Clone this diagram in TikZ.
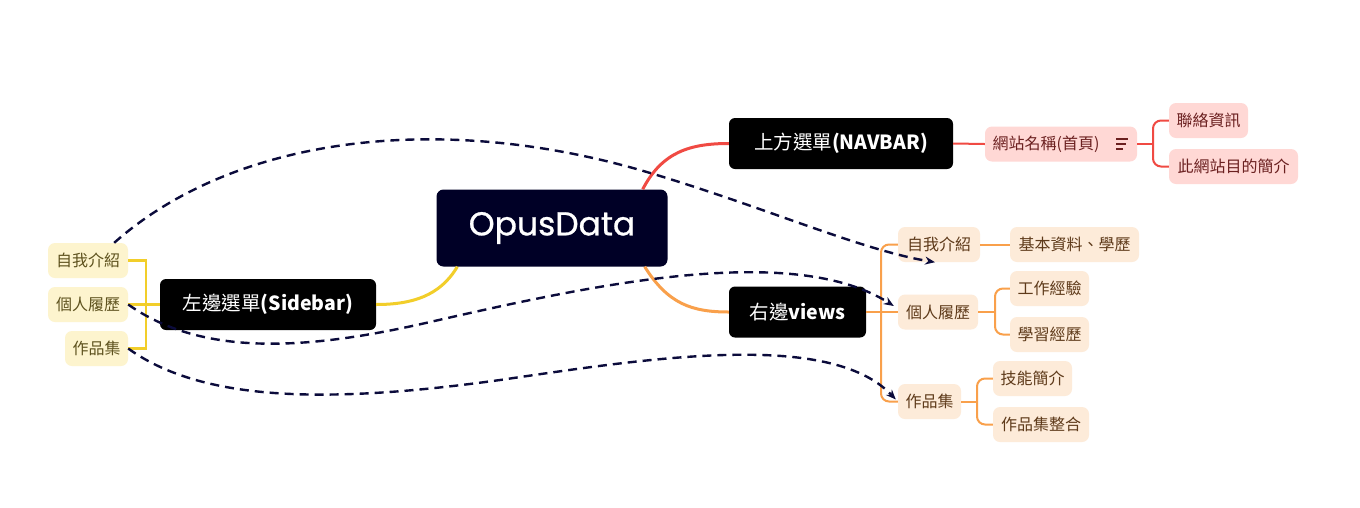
\documentclass[tikz,border=0pt]{standalone}
\usepackage{fontspec}
\usetikzlibrary{arrows.meta,calc}
\newfontfamily\cjk{Noto Sans CJK TC}
\newfontfamily\popfont{Poppins}[FakeBold=0.8]
\definecolor{rootbg}{HTML}{000026}
\definecolor{redl}{HTML}{F04A43}
\definecolor{orgl}{HTML}{F9A04B}
\definecolor{ylwl}{HTML}{F2CE2A}
\definecolor{pinkbg}{HTML}{FFD8D5}
\definecolor{peachbg}{HTML}{FDEBD9}
\definecolor{ylwbg}{HTML}{FDF4CE}
\definecolor{pinktx}{HTML}{6B2020}
\definecolor{peachtx}{HTML}{5E3A1A}
\definecolor{ylwtx}{HTML}{5E521E}
\definecolor{dashc}{HTML}{0B0B3B}
\tikzset{
  blk/.style={fill=black, text=white, rounded corners=6pt, minimum height=51pt, inner sep=0pt, font=\cjk\fontsize{19.5}{22}\selectfont},
  leaf/.style={rounded corners=7pt, minimum height=35pt, inner sep=0pt, font=\cjk\fontsize{16}{18}\selectfont},
  pleaf/.style={leaf, fill=pinkbg, text=pinktx},
  oleaf/.style={leaf, fill=peachbg, text=peachtx},
  yleaf/.style={leaf, fill=ylwbg, text=ylwtx},
  mainr/.style={draw=redl, line width=3pt},
  maino/.style={draw=orgl, line width=3pt},
  mainy/.style={draw=ylwl, line width=3pt},
  subr/.style={draw=redl, line width=2pt},
  subo/.style={draw=orgl, line width=2pt},
  suby/.style={draw=ylwl, line width=2.2pt},
  rel/.style={draw=dashc, line width=2.4pt, dash pattern=on 9pt off 6pt, -{Stealth[length=10pt,width=8pt]}},
}
\begin{document}
\begin{tikzpicture}[x=1pt,y=-1pt]
\useasboundingbox (0,0) rectangle (1360,507);
\fill[white] (0,0) rectangle (1360,507);

% main nodes
\node[fill=rootbg, text=white, rounded corners=7pt, minimum width=231pt, minimum height=77pt, inner sep=0pt, font=\popfont\fontsize{33}{36}\selectfont] (opus) at (552,228) {OpusData};
\node[blk, minimum width=224pt] (navbar) at (841,143.5) {上方選單{\bfseries(NAVBAR)}};
\node[blk, minimum width=137pt] (views) at (797.5,312) {右邊{\bfseries views}};
\node[blk, minimum width=216pt] (sidebar) at (268,304.5) {左邊選單{\bfseries(Sidebar)}};

% navbar branch
\node[pleaf, minimum width=152pt] (site) at (1061,144) {網站名稱(首頁)\kern30pt\relax};
\draw[pinktx, line width=1.2pt] ($(site.east)+(-21,-5)$) -- +(12,0)
  ($(site.east)+(-21,0)$) -- +(10,0)
  ($(site.east)+(-21,5)$) -- +(7,0);
\node[pleaf, minimum width=79pt] (contact) at (1208.5,120.5) {聯絡資訊};
\node[pleaf, minimum width=129pt] (purpose) at (1233.5,166.5) {此網站目的簡介};

% views branch
\node[oleaf, minimum width=82pt] (rself) at (939,244.5) {自我介紹};
\node[oleaf, minimum width=129pt] (basic) at (1074.5,244.5) {基本資料、學歷};
\node[oleaf, minimum width=80pt] (rcv) at (938,312) {個人履歷};
\node[oleaf, minimum width=79pt] (work) at (1049.5,288.5) {工作經驗};
\node[oleaf, minimum width=79pt] (study) at (1049.5,334.5) {學習經歷};
\node[oleaf, minimum width=63pt] (rport) at (929.5,401.5) {作品集};
\node[oleaf, minimum width=79pt] (skill) at (1032.5,378.5) {技能簡介};
\node[oleaf, minimum width=96pt] (integ) at (1041,424.5) {作品集整合};

% sidebar branch
\node[yleaf, minimum width=80pt] (lself) at (88,260.5) {自我介紹};
\node[yleaf, minimum width=80pt] (lcv) at (88,304.5) {個人履歷};
\node[yleaf, minimum width=63pt] (lport) at (96.5,348.5) {作品集};

% main branches
\draw[mainr] ($(opus.north east)+(-25,0)$) .. controls (662,152) and (690,143.5) .. (navbar.west);
\draw[maino] ($(opus.south east)+(-23,0)$) .. controls (668,304) and (692,312) .. (views.west);
\draw[mainy] ($(opus.south west)+(21,0)$) .. controls (440,296) and (412,304.5) .. (sidebar.east);

% navbar sub
\draw[subr] (navbar.east) -- (site.west);
\draw[subr] (site.east) -- (1153,144);
\draw[subr, rounded corners=8pt] (contact.west) -| (1153,144) |- (purpose.west);

% views sub
\draw[subo] (views.east) -- (rcv.west);
\draw[subo, rounded corners=8pt] (rself.west) -| (881,312) |- (rport.west);
\draw[subo] (rself.east) -- (basic.west);
\draw[subo] (rcv.east) -- (995,312);
\draw[subo, rounded corners=8pt] (work.west) -| (995,312) |- (study.west);
\draw[subo] (rport.east) -- (977,401.5);
\draw[subo, rounded corners=8pt] (skill.west) -| (977,401.5) |- (integ.west);

% sidebar sub
\draw[suby] (sidebar.west) -- (lcv.east);
\draw[suby] (lself.east) -| (146,304.5) |- (lport.east);

% relations
\draw[rel] ($(lself.north east)+(-14,0)$) .. controls (230,140) and (430,110) .. (640,170)
  .. controls (760,205) and (860,250) .. ($(rself.south)+(-4,0)$);
\draw[rel] (lcv.east) .. controls (200,355) and (300,352) .. (430,322)
  .. controls (580,288) and (790,240) .. ($(rcv.west)+(-4,-6)$);
\draw[rel] (lport.east) .. controls (200,400) and (320,405) .. (500,380)
  .. controls (650,358) and (830,330) .. ($(rport.west)+(-2,-2)$);
\end{tikzpicture}
\end{document}
